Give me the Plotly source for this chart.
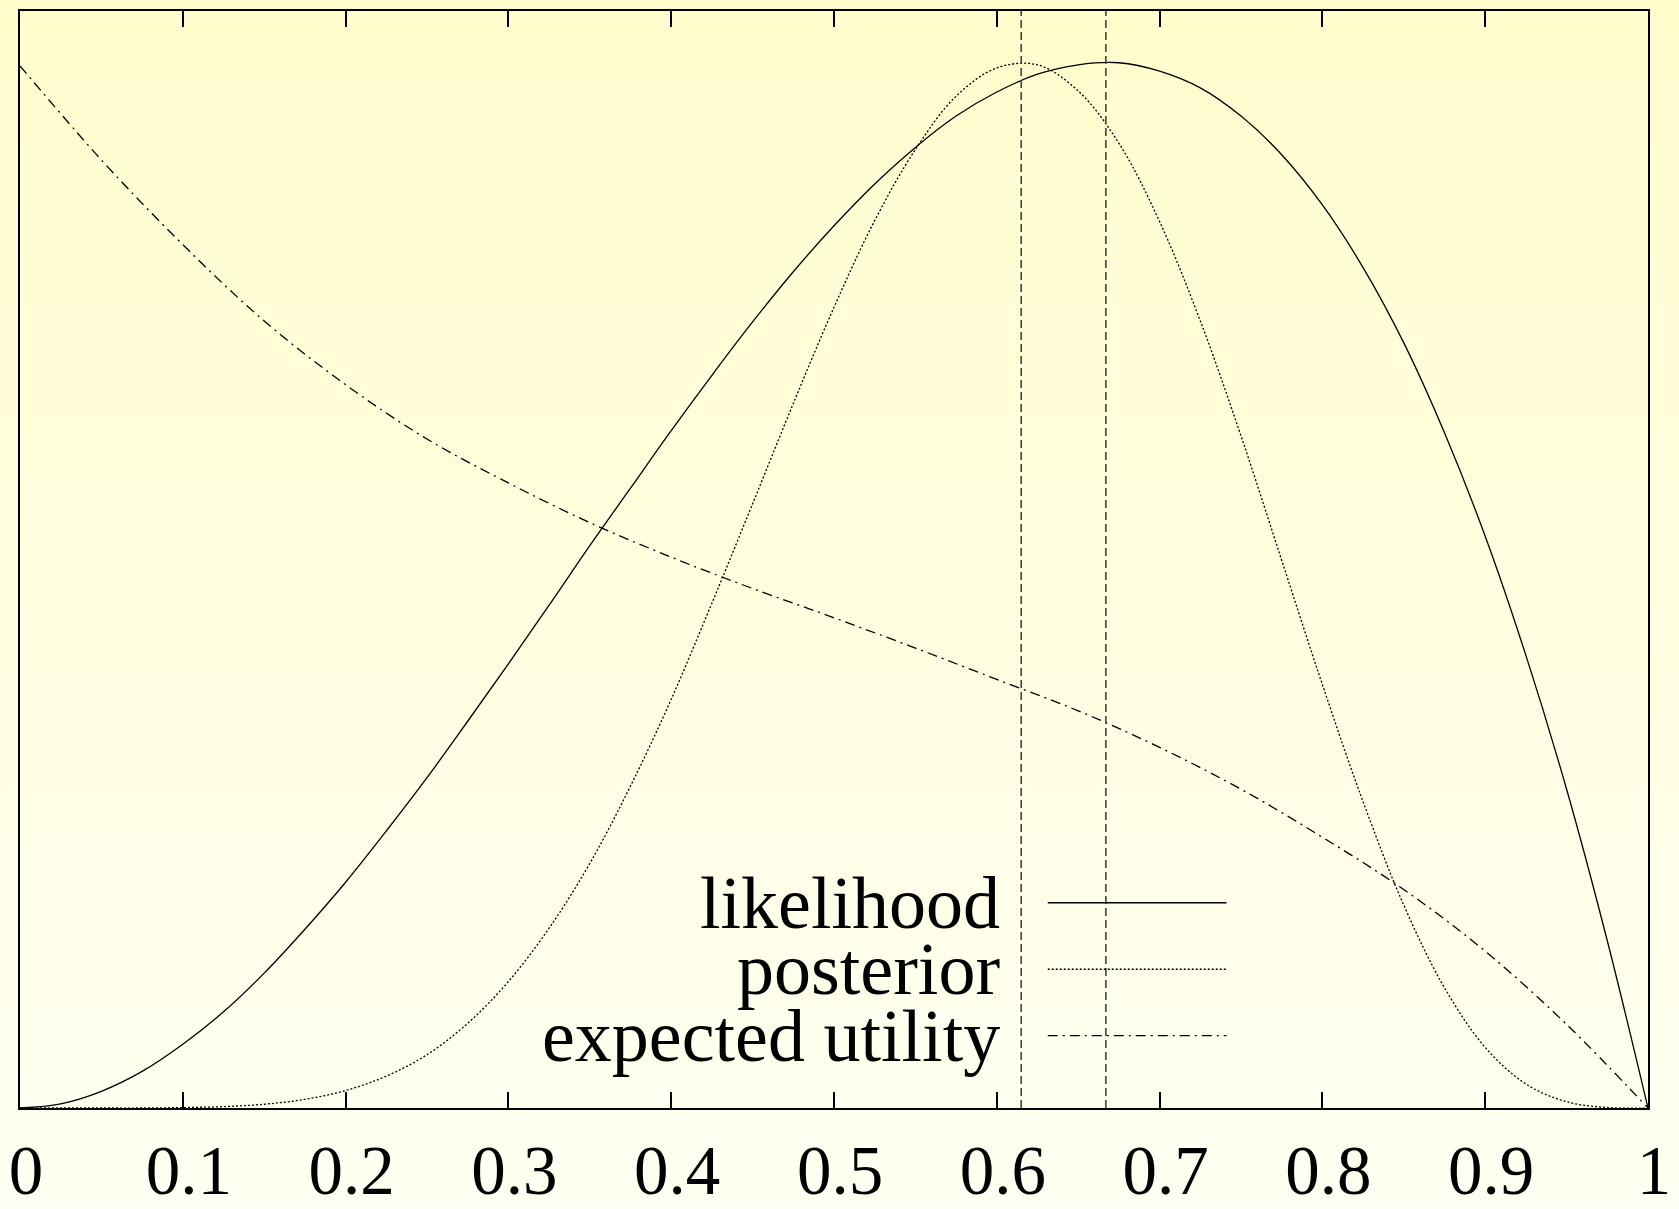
import plotly.graph_objects as go

# ---------------- data ----------------
grid_x = [0, 0.025, 0.05, 0.075, 0.1, 0.125, 0.15, 0.175, 0.2, 0.225, 0.25, 0.275, 0.3,
          0.325, 0.35, 0.375, 0.4, 0.425, 0.45, 0.475, 0.5, 0.525, 0.55, 0.575, 0.6,
          0.625, 0.65, 0.675, 0.7, 0.725, 0.75, 0.775, 0.8, 0.825, 0.85, 0.875, 0.9,
          0.925, 0.95, 0.975, 1.0]

likelihood_y = [0, 0.004, 0.016, 0.035, 0.061, 0.092, 0.129, 0.171, 0.216, 0.265, 0.316, 0.370, 0.425,
                0.481, 0.538, 0.593, 0.648, 0.701, 0.752, 0.800, 0.844, 0.884, 0.919, 0.949, 0.972,
                0.989, 0.998, 1.000, 0.992, 0.976, 0.949, 0.912, 0.864, 0.804, 0.732, 0.646, 0.547,
                0.433, 0.305, 0.160, 0]

posterior_y = [0, 0, 0, 0, 0.0004, 0.0013, 0.0036, 0.0083, 0.0167, 0.0305, 0.051, 0.081, 0.121,
               0.172, 0.234, 0.308, 0.391, 0.483, 0.578, 0.674, 0.766, 0.849, 0.917, 0.968, 0.995,
               0.998, 0.973, 0.923, 0.848, 0.753, 0.643, 0.524, 0.405, 0.293, 0.194, 0.115, 0.058,
               0.023, 0.006, 0.0005, 0]

utility_x = [0, 0.05, 0.1, 0.15, 0.2, 0.25, 0.3, 0.35, 0.4, 0.45, 0.5,
             0.55, 0.6, 0.65, 0.7, 0.75, 0.8, 0.85, 0.9, 0.95, 1.0]
utility_y = [0.997, 0.907, 0.826, 0.753, 0.692, 0.640, 0.598, 0.560, 0.527, 0.497, 0.469,
             0.440, 0.410, 0.380, 0.345, 0.305, 0.259, 0.209, 0.150, 0.080, 0]

mode_lines = [0.615, 0.667]          # posterior mode, likelihood mode

tick_vals = [0, 0.1, 0.2, 0.3, 0.4, 0.5, 0.6, 0.7, 0.8, 0.9, 1.0]
tick_text = ["0", "0.1", "0.2", "0.3", "0.4", "0.5", "0.6", "0.7", "0.8", "0.9", "1"]

series_names = ["likelihood", "posterior", "expected utility"]

# ---------------- styling ----------------
FONT = "Liberation Serif"
W, H = 1679, 1209
ML, MR, MT, MB = 20, 31, 11, 101
dashes = ["solid", "2px,2px", "10px,5px,2px,5px"]

fig = go.Figure()
for name, xs, ys, dash in zip(series_names,
                              [grid_x, grid_x, utility_x],
                              [likelihood_y, posterior_y, utility_y],
                              dashes):
    fig.add_trace(go.Scatter(x=xs, y=ys, mode="lines", name=name,
                             line=dict(color="black", width=1.3, dash=dash,
                                       shape="spline", smoothing=1.0),
                             showlegend=False, hoverinfo="skip"))

shapes = []
# background gradient across the whole page
n_bands = 120
top_rgb = (255, 253, 204)
bot_rgb = (255, 255, 243)
pw = W - ML - MR
ph = H - MT - MB
x_lo = -ML / pw
x_hi = 1 + MR / pw
y_lo = -MB / ph
y_hi = 1 + MT / ph
for i in range(n_bands):
    t = i / (n_bands - 1)
    r = round(top_rgb[0] + (bot_rgb[0] - top_rgb[0]) * t)
    g = round(top_rgb[1] + (bot_rgb[1] - top_rgb[1]) * t)
    b = round(top_rgb[2] + (bot_rgb[2] - top_rgb[2]) * t)
    y1 = y_hi - (y_hi - y_lo) * i / n_bands
    y0 = y_hi - (y_hi - y_lo) * (i + 1) / n_bands - 0.002
    shapes.append(dict(type="rect", xref="paper", yref="paper",
                       x0=x_lo, x1=x_hi, y0=y0, y1=y1, layer="below",
                       line=dict(width=0), fillcolor=f"rgb({r},{g},{b})"))

# vertical mode markers
for xm in mode_lines:
    shapes.append(dict(type="line", xref="x", yref="paper", x0=xm, x1=xm, y0=0, y1=1,
                       line=dict(color="#444444", width=1.6, dash="8px,4px")))

# legend (manual, gnuplot style: text right-aligned, sample on the right)
leg_rows = [0.1871, 0.1265, 0.0660]
annotations = []
for name, dash, yy in zip(series_names, dashes, leg_rows):
    shapes.append(dict(type="line", xref="paper", yref="paper",
                       x0=0.6313, x1=0.7411, y0=yy, y1=yy,
                       line=dict(color="black", width=1.3, dash=dash)))
    annotations.append(dict(xref="paper", yref="paper", x=0.6029, y=yy,
                            xanchor="right", yanchor="middle", showarrow=False,
                            text=name, font=dict(family=FONT, size=74, color="black")))

fig.update_layout(
    width=W, height=H,
    margin=dict(l=ML, r=MR, t=MT, b=MB, pad=0, autoexpand=False),
    paper_bgcolor="rgb(255,254,225)",
    plot_bgcolor="rgba(0,0,0,0)",
    shapes=shapes,
    annotations=annotations,
    showlegend=False,
    xaxis=dict(range=[0, 1], tickvals=tick_vals, ticktext=tick_text,
               ticks="inside", ticklen=16, tickwidth=2, tickcolor="black",
               showline=True, linewidth=2, linecolor="black", mirror="ticks",
               showgrid=False, zeroline=False, ticklabelstandoff=1, ticklabelshift=6,
               automargin=False,
               tickfont=dict(family=FONT, size=69, color="black")),
    yaxis=dict(range=[0, 1.0495], showticklabels=False, ticks="",
               showline=True, linewidth=2, linecolor="black", mirror=True,
               showgrid=False, zeroline=False, automargin=False),
)

fig.write_html("out.html")
